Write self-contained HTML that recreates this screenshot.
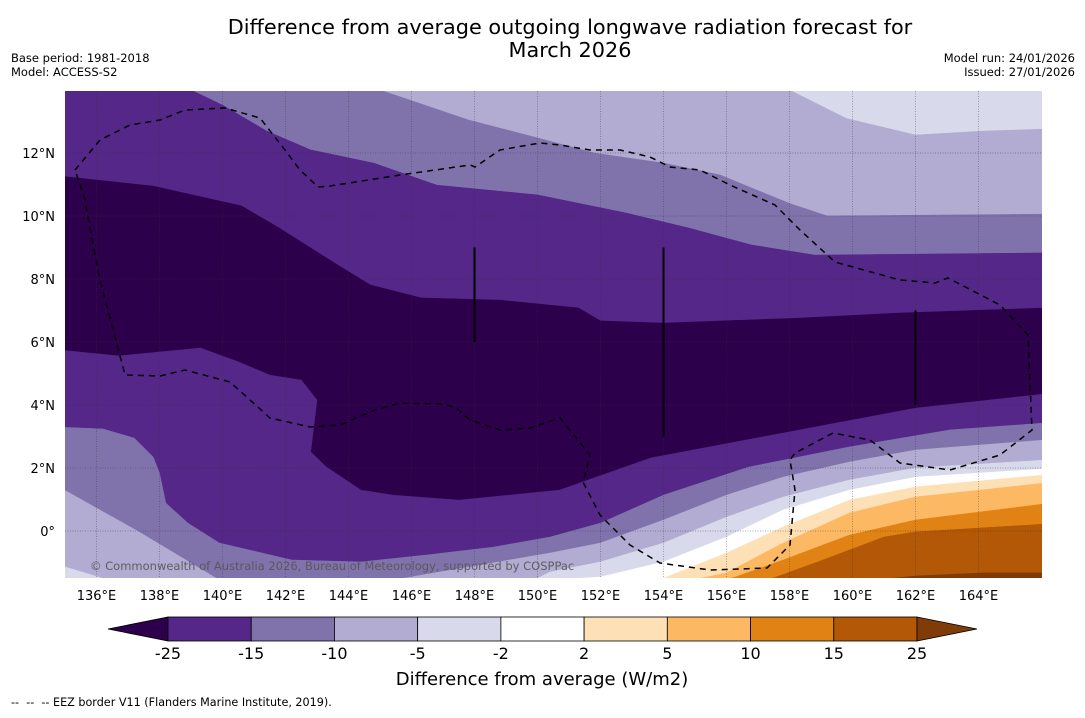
<!DOCTYPE html>
<html><head><meta charset="utf-8"><style>
body{margin:0;background:#fff;font-family:"Liberation Sans","DejaVu Sans",sans-serif}
svg text{font-family:"DejaVu Sans","Liberation Sans",sans-serif;white-space:pre}
</style></head><body>
<svg id="chart" width="1085" height="713" viewBox="0 0 1085 713" xmlns="http://www.w3.org/2000/svg">
<text x="570" y="34" text-anchor="middle" font-size="20.8">Difference from average outgoing longwave radiation forecast for</text>
<text x="570" y="57" text-anchor="middle" font-size="20.8">March 2026</text>
<text x="11" y="62" font-size="11.5">Base period: 1981-2018</text>
<text x="11" y="76" font-size="11.5">Model: ACCESS-S2</text>
<text x="1075" y="62" font-size="11.5" text-anchor="end">Model run: 24/01/2026</text>
<text x="1075" y="76" font-size="11.5" text-anchor="end">Issued: 27/01/2026</text>
<defs><clipPath id="plotclip"><rect x="65" y="91" width="977" height="487"/></clipPath></defs>
<g id="fills" clip-path="url(#plotclip)"></g>
<g id="grid" clip-path="url(#plotclip)"></g>
<g id="overlay" clip-path="url(#plotclip)"></g>
<g id="axes"></g>
<g id="colorbar"></g>
<text x="542" y="685" text-anchor="middle" font-size="18">Difference from average (W/m2)</text>
<text x="11" y="706" font-size="11.2" xml:space="preserve">--  --  -- EEZ border V11 (Flanders Marine Institute, 2019).</text>
</svg>
<script>
// ---- data: contour boundaries (lon, lat) ----
const levels = [-25,-15,-10,-5,-2,2,5,10,15,25];
const bandColors = ['#2d004b','#542788','#8073ac','#b2abd2','#d8daeb','#ffffff','#fee0b6','#fdb863','#e08214','#b35806','#7f3b08'];
const latTicks = [0,2,4,6,8,10,12];
const lonTicks = [136,138,140,142,144,146,148,150,152,154,156,158,160,162,164];

const b1Lon=[134,157,158.0,159.8,162.0,164.2,166.1];
const b1Lat=[15,15,14.0,13.1,12.57,12.7,12.76];
const b2Lon=[134,144.5,145.0,147.8,150.0,151.8,154.0,155.8,156.8,158.0,159.2,166.1];
const b2Lat=[15,15,14.0,13.05,12.48,12.0,11.68,11.3,10.89,10.4,10.0,10.06];
const b3Lon=[134,138.5,139.0,140.0,141.4,142.8,144.8,146.8,150.0,152.8,154.8,156.8,158.8,166.1];
const b3Lat=[15,15,14.0,13.52,12.7,12.1,11.68,10.98,10.67,10.1,9.62,9.08,8.76,8.83];
const b4Lon=[134.8,137.8,140.6,141.8,143.6,144.7,146.3,148.8,151.3,152.0,154.0,158.3,161.5,166.1];
const b4Lat=[11.27,10.95,10.32,9.62,8.48,7.81,7.4,7.33,7.08,6.67,6.6,6.76,6.92,7.08];
const c4Lon=[134.8,136.7,139.3,140.5,141.5,142.5,143.0,142.8,143.3,144.4,145.4,147.5,150.7,153.6,157.8,162.0,166.1];
const c4Lat=[5.75,5.56,5.81,5.37,4.95,4.79,4.16,2.51,2.03,1.30,1.14,0.98,1.30,2.32,3.11,3.9,4.35];
const c3Lon=[134.8,136.2,137.2,137.8,138.0,138.2,138.9,139.9,142.2,144.4,146.5,148.6,150.4,152.0,154.0,156.7,159.9,163.1,166.1];
const c3Lat=[3.3,3.24,2.95,2.35,1.84,0.89,0.25,-0.38,-0.92,-0.98,-0.76,-0.51,-0.19,0.25,1.14,2.03,2.67,3.21,3.43];
const c2Lon=[134.8,137.3,139.9,142,144,145.4,150.4,152.0,154.0,156.0,157.8,159.9,162.0,166.1];
const c2Lat=[1.4,0.0,-1.56,-2.5,-2.5,-1.56,-0.70,-0.38,0.35,1.14,1.71,2.19,2.57,2.89];
const c1Lon=[134.8,136.2,137,148,150.4,152.0,154.0,156.0,157.8,159.9,162.0,166.1];
const c1Lat=[-1.08,-1.5,-2.5,-2.5,-1.3,-0.98,-0.38,0.44,1.08,1.62,2.0,2.25];
const c0Lon=[134,149,150.4,152,154.0,156.0,157.8,159.9,162.0,166.1];
const c0Lat=[-3,-3,-1.56,-1.46,-0.98,-0.19,0.67,1.30,1.71,1.97];
const d1Lon=[134,153,154.0,156.0,157.8,159.9,162.0,166.1];
const d1Lat=[-3,-3,-1.5,-0.7,0.13,0.98,1.4,1.78];
const d2Lon=[134,154,154.9,156.0,157.8,159.9,162.0,166.1];
const d2Lat=[-3,-3,-1.56,-1.33,-0.38,0.57,1.08,1.52];
const d3Lon=[134,155.5,156.0,157.8,159.9,162.0,166.1];
const d3Lat=[-3,-3,-1.56,-0.92,-0.13,0.35,0.86];
const d4Lon=[134,156.5,157.3,158.9,161.0,162.0,166.1];
const d4Lat=[-3,-3,-1.56,-0.98,-0.19,-0.03,0.22];
const d5Lon=[134,160,161,162.0,164.1,166.1];
const d5Lat=[-3,-3,-1.53,-1.43,-1.33,-1.33];

// ---- axis functions ----
const xOf = lon => 65 + (lon-135)*31.5;
const yOf = lat => 531 - lat*31.5;
const NS='http://www.w3.org/2000/svg';
function mk(tag, attrs, parent){const e=document.createElementNS(NS,tag);for(const k in attrs)e.setAttribute(k,attrs[k]);parent.appendChild(e);return e;}

const fills=document.getElementById('fills');
let bg=mk('rect',{x:65,y:91,width:977,height:487,fill:bandColors[4]},fills);


const curves=[
 [b1Lon,b1Lat,3,'band-minus10-to-minus5-top'],[b2Lon,b2Lat,2,'band-minus15-to-minus10-top'],
 [b3Lon,b3Lat,1,'band-minus25-to-minus15-top'],[b4Lon,b4Lat,0,'band-below-minus25'],
 [c4Lon,c4Lat,1,'band-minus25-to-minus15-bottom'],[c3Lon,c3Lat,2,'band-minus15-to-minus10-bottom'],
 [c2Lon,c2Lat,3,'band-minus10-to-minus5-bottom'],[c1Lon,c1Lat,4,'band-minus5-to-minus2-bottom'],
 [c0Lon,c0Lat,5,'band-minus2-to-2'],[d1Lon,d1Lat,6,'band-2-to-5'],[d2Lon,d2Lat,7,'band-5-to-10'],
 [d3Lon,d3Lat,8,'band-10-to-15'],[d4Lon,d4Lat,9,'band-15-to-25'],[d5Lon,d5Lat,10,'band-above-25']];
curves.forEach(([lo,la,ci,name])=>{
  let d='M'+lo.map((v,i)=>xOf(v).toFixed(1)+','+yOf(la[i]).toFixed(1)).join(' L');
  d+=' L'+xOf(lo[lo.length-1]).toFixed(1)+','+yOf(-5)+' L'+xOf(lo[0]).toFixed(1)+','+yOf(-5)+' Z';
  const p=mk('path',{d:d,fill:bandColors[ci],stroke:bandColors[ci],'stroke-width':0.5},fills);
  
  
});

// grid
const grid=document.getElementById('grid');
lonTicks.forEach(l=>{const g=mk('line',{x1:xOf(l),x2:xOf(l),y1:91,y2:578,stroke:'#333','stroke-width':0.7,'stroke-dasharray':'1,1.5','stroke-opacity':0.55},grid);
 
 });
latTicks.forEach(l=>{const g=mk('line',{x1:65,x2:1042,y1:yOf(l),y2:yOf(l),stroke:'#333','stroke-width':0.7,'stroke-dasharray':'1,1.5','stroke-opacity':0.55},grid);
 
 });

// overlay: EEZ border and marks
const ov=document.getElementById('overlay');
const eez='M75,170 L100,140 L130,125 L160,120 L185,110 L225,108 L260,118 L285,150 L300,170 L318,187 L330,186 L400,175 L470,165 L475,167 L500,150 L540,143 L560,145 L590,150 L620,150 L650,157 L670,167 L700,170 L730,185 L775,205 L800,230 L835,262 L900,280 L935,283 L948,278 L1000,305 L1028,335 L1032,430 L1000,455 L950,470 L900,463 L870,440 L833,433 L795,453 L790,460 L795,490 L790,545 L767,568 L710,570 L660,563 L630,545 L600,515 L583,482 L590,455 L560,418 L530,428 L500,430 L470,420 L455,407 L440,404 L400,403 L375,410 L340,425 L310,427 L270,418 L250,400 L230,382 L185,370 L160,376 L125,375 L100,280 L92,240 L85,200 Z';
let e=mk('path',{d:eez,fill:'none',stroke:'#000','stroke-width':1.5,'stroke-dasharray':'6,5'},ov);


[[148,9,6],[154,9,3],[162,7,4]].forEach(([lo,a,b])=>{const l=mk('line',{x1:xOf(lo),x2:xOf(lo),y1:yOf(a),y2:yOf(b),stroke:'#000','stroke-width':2},ov);
 
 });
let cp=mk('text',{x:90,y:570,'font-size':11.5,fill:'#555','fill-opacity':0.9},ov);
cp.textContent='© Commonwealth of Australia 2026, Bureau of Meteorology, supported by COSPPac';



// axes labels
const ax=document.getElementById('axes');
lonTicks.forEach(l=>{const t=mk('text',{x:xOf(l),y:600,'font-size':13,'text-anchor':'middle'},ax);t.textContent=l+'°E';
 
 });
latTicks.forEach(l=>{const t=mk('text',{x:55,y:yOf(l)+5,'font-size':13,'text-anchor':'end'},ax);t.textContent=l===0?'0°':l+'°N';
 
 });

// colorbar
const cb=document.getElementById('colorbar');
const cbX0=168, cbW=(917-168)/9, cbY=617, cbH=24;
let lt=mk('polygon',{points:`108,${cbY+cbH/2} ${cbX0},${cbY} ${cbX0},${cbY+cbH}`,fill:bandColors[0],stroke:'#000','stroke-width':0.8},cb);


for(let i=0;i<9;i++){const r=mk('rect',{x:cbX0+i*cbW,y:cbY,width:cbW,height:cbH,fill:bandColors[i+1],stroke:'#000','stroke-width':0.8},cb);
 
 }
let rt=mk('polygon',{points:`917,${cbY} 977,${cbY+cbH/2} 917,${cbY+cbH}`,fill:bandColors[10],stroke:'#000','stroke-width':0.8},cb);


levels.forEach((v,i)=>{const t=mk('text',{x:cbX0+i*cbW,y:659,'font-size':16,'text-anchor':'middle'},cb);t.textContent=v;
 
 });
</script>
</body></html>
